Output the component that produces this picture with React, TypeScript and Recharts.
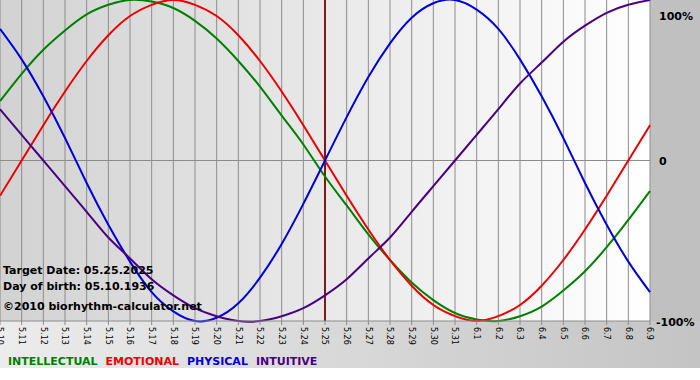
import { CartesianGrid, Line, LineChart, ReferenceLine, XAxis, YAxis } from "recharts";

const dates = [
  "5.10", "5.11", "5.12", "5.13", "5.14", "5.15", "5.16", "5.17", "5.18", "5.19", "5.20",
  "5.21", "5.22", "5.23", "5.24", "5.25", "5.26", "5.27", "5.28", "5.29", "5.30", "5.31",
  "6.1", "6.2", "6.3", "6.4", "6.5", "6.6", "6.7", "6.8", "6.9",
];

const intellectual = [
  37, 54, 69, 81, 91, 97, 100, 99, 95, 87, 76, 62, 46, 28, 10, -10,
  -28, -46, -62, -76, -87, -95, -99, -100, -97, -91, -81, -69, -54, -37, -19,
];
const emotional = [
  -22, 0, 22, 43, 62, 78, 90, 97, 100, 97, 90, 78, 62, 43, 22, 0,
  -22, -43, -62, -78, -90, -97, -100, -97, -90, -78, -62, -43, -22, 0, 22,
];
const physical = [
  82, 63, 40, 14, -14, -40, -63, -82, -94, -100, -98, -89, -73, -52, -27, 0,
  27, 52, 73, 89, 98, 100, 94, 82, 63, 40, 14, -14, -40, -63, -82,
];
const intuitive = [
  32, 16, 0, -16, -32, -48, -61, -74, -84, -92, -97, -100, -100, -97, -92, -84,
  -74, -61, -48, -32, -16, 0, 16, 32, 48, 61, 74, 84, 92, 97, 100,
];

const yTicks = [-100, 0, 100];
const targetDate = "5.25";

const series = [
  { key: "intellectual", label: "INTELLECTUAL", color: "#008000" },
  { key: "emotional", label: "EMOTIONAL", color: "#ee0000" },
  { key: "physical", label: "PHYSICAL", color: "#0000dd" },
  { key: "intuitive", label: "INTUITIVE", color: "#4b0082" },
];

const data = dates.map((date, i) => ({
  date,
  intellectual: intellectual[i],
  emotional: emotional[i],
  physical: physical[i],
  intuitive: intuitive[i],
}));

const font = "'DejaVu Sans', Verdana, sans-serif";

function DateTick({ x, y, payload }: any) {
  return (
    <text
      x={x}
      y={y}
      dy="0.35em"
      transform={`rotate(90 ${x} ${y})`}
      fontSize={8}
      fontFamily={font}
      fill="#000"
    >
      {payload.value}
    </text>
  );
}

function PercentTick({ y, payload }: any) {
  const v = payload.value;
  const label = v === 0 ? "0" : `${v}%`;
  // labels start just right of the plot edge (650)
  const x = v < 0 ? 656 : 659;
  return (
    <text
      x={x}
      y={v === 100 ? y + 7 : y + 1}
      dy="0.35em"
      fontSize={11}
      fontWeight="bold"
      fontFamily={font}
      fill="#000"
    >
      {label}
    </text>
  );
}

export default function App() {
  return (
    <div style={{ position: "relative", width: 700, height: 380, background: "#fff", fontFamily: font }}>
      <style>{`body { margin: 0; }`}</style>
      <div style={{ position: "absolute", left: 0, top: 0, width: 650, height: 321, background: "linear-gradient(to right, #d2d2d2, #ffffff)" }} />
      <div style={{ position: "absolute", left: 650, top: 0, width: 50, height: 321, background: "#c0c0c0" }} />
      <div style={{ position: "absolute", left: 0, top: 321, width: 700, height: 47, background: "linear-gradient(to right, #ececec, #c4c4c4)" }} />
      <div style={{ position: "absolute", left: 0, top: 0 }}>
        <LineChart width={700} height={380} data={data} margin={{ top: 0, right: 0, left: 0, bottom: 29 }}>
          <CartesianGrid vertical horizontal={false} stroke="#8c8c8c" />
          <XAxis
            dataKey="date"
            interval={0}
            height={30}
            tick={<DateTick />}
            tickSize={4}
            tickMargin={2}
            stroke="#8c8c8c"
          />
          <YAxis
            orientation="right"
            domain={[-100, 100]}
            ticks={yTicks}
            width={50}
            axisLine={false}
            tickLine={false}
            tick={<PercentTick />}
          />
          <ReferenceLine y={0} stroke="#8c8c8c" />
          <ReferenceLine x={targetDate} stroke="#7b1a1a" strokeWidth={2} />
          {series.map((s) => (
            <Line
              key={s.key}
              type="natural"
              dataKey={s.key}
              stroke={s.color}
              strokeWidth={2}
              dot={false}
              activeDot={false}
              isAnimationActive={false}
            />
          ))}
        </LineChart>
      </div>
      <div style={{ position: "absolute", left: 3, top: 263, fontSize: 11, fontWeight: "bold", lineHeight: "16px", color: "#000" }}>
        <div>Target Date: 05.25.2025</div>
        <div>Day of birth: 05.10.1936</div>
        <div style={{ marginTop: 4 }}>©2010 biorhythm-calculator.net</div>
      </div>
      <div style={{ position: "absolute", left: 8, top: 355, fontSize: 11, fontWeight: "bold", whiteSpace: "nowrap" }}>
        {series.map((s) => (
          <span key={s.key} style={{ color: s.color, marginRight: 8 }}>{s.label}</span>
        ))}
      </div>
    </div>
  );
}
